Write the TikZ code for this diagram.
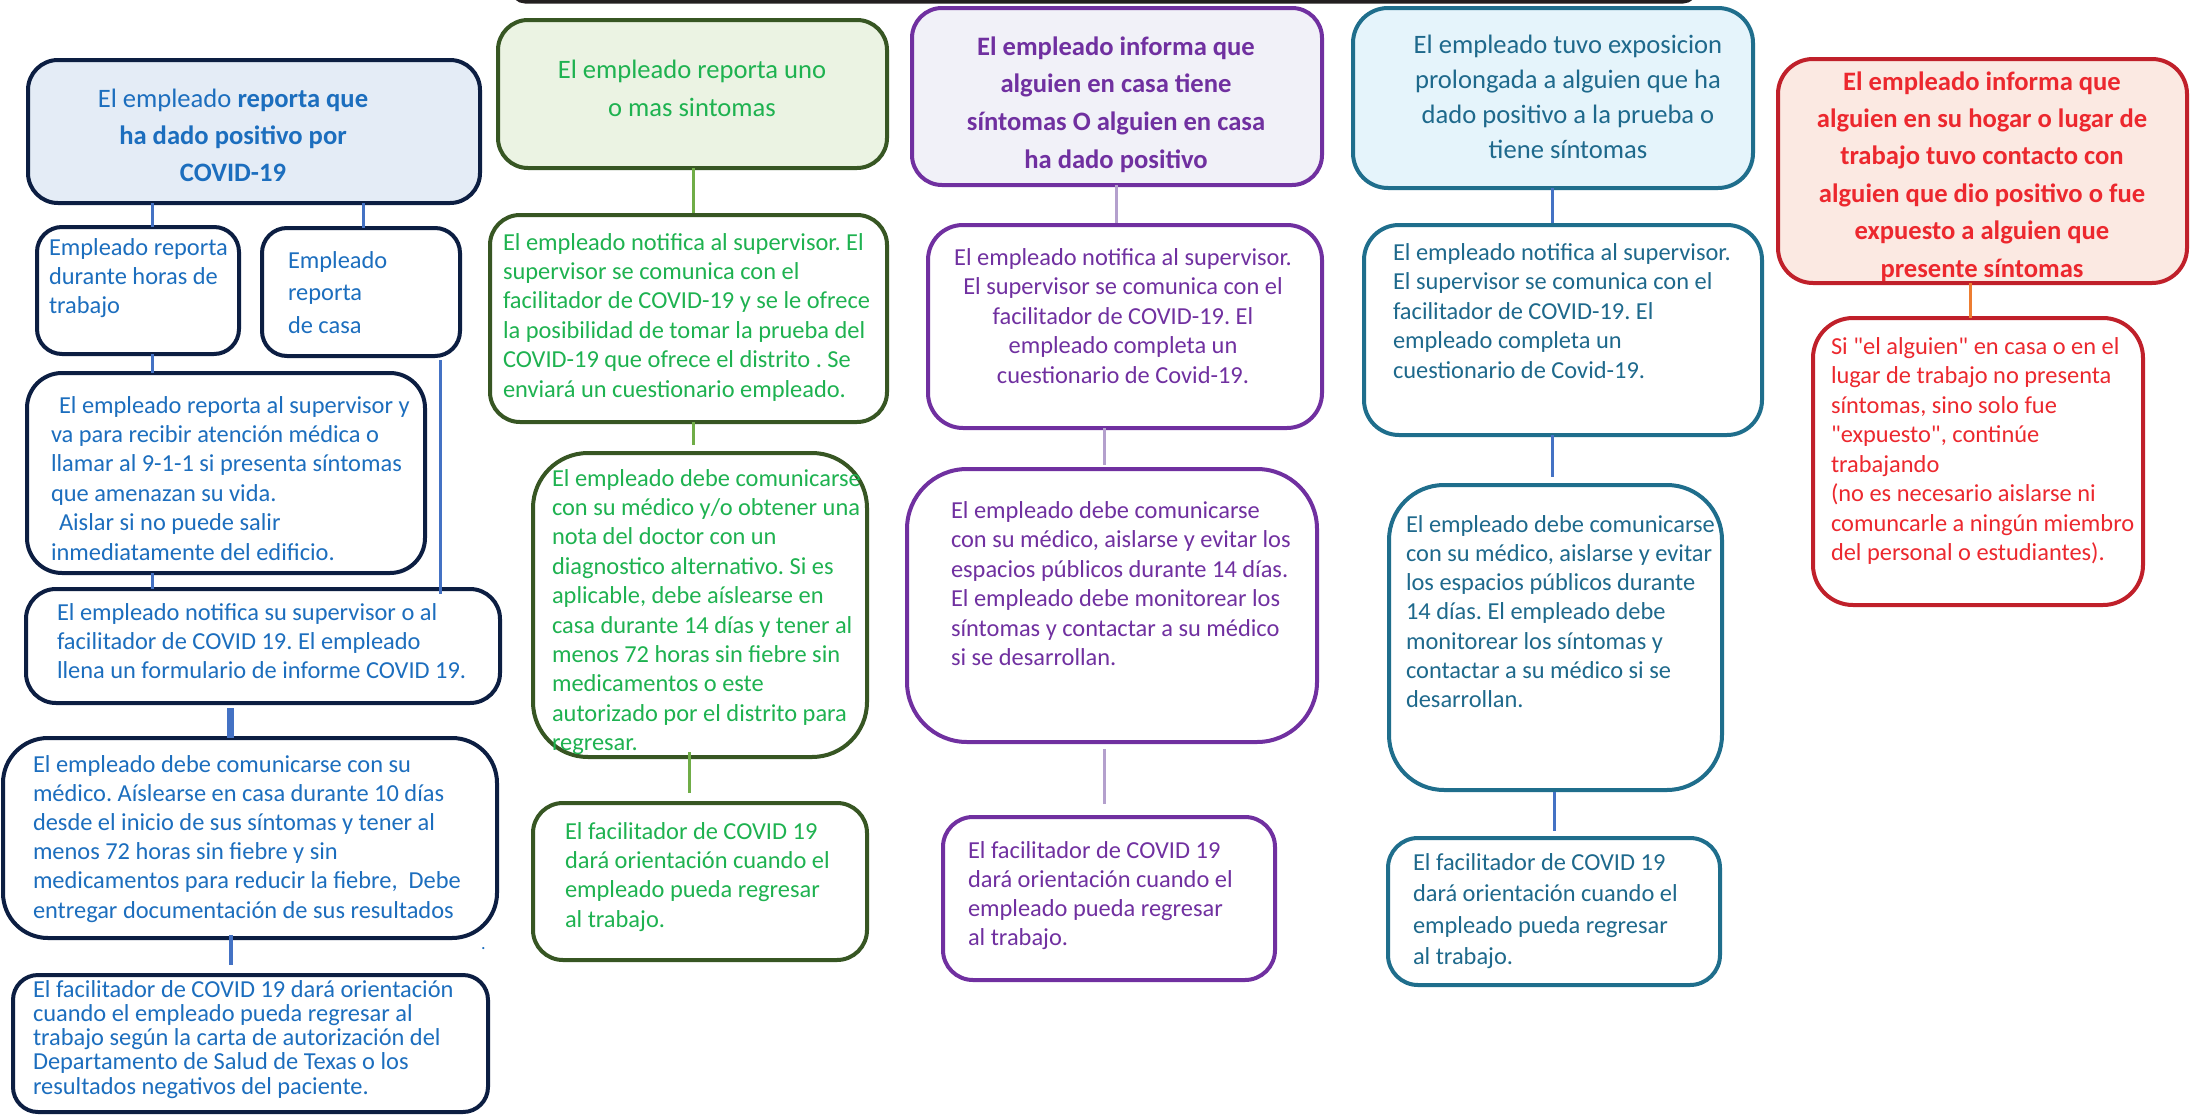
\documentclass[tikz,border=0pt]{standalone}
\usepackage{fontspec}
\setmainfont{Carlito}[Ligatures=TeXOff]
\usetikzlibrary{fit}
\frenchspacing
\definecolor{navy}{RGB}{12,30,66}
\definecolor{tblue}{RGB}{28,110,190}
\definecolor{fblue}{RGB}{228,236,246}
\definecolor{cblue}{RGB}{68,114,196}
\definecolor{sgreen}{RGB}{55,86,35}
\definecolor{fgreen}{RGB}{235,243,227}
\definecolor{tgreen}{RGB}{30,178,80}
\definecolor{cgreen}{RGB}{112,173,71}
\definecolor{spurple}{RGB}{112,48,160}
\definecolor{fpurple}{RGB}{241,241,248}
\definecolor{cpurple}{RGB}{180,160,205}
\definecolor{steal}{RGB}{31,110,140}
\definecolor{tteal}{RGB}{30,105,140}
\definecolor{fteal}{RGB}{229,244,251}
\definecolor{sred}{RGB}{192,32,42}
\definecolor{fred}{RGB}{251,233,226}
\definecolor{tred}{RGB}{236,40,46}
\definecolor{corange}{RGB}{237,125,49}
\definecolor{topbar}{RGB}{35,31,32}
\newcommand\LT[2]{\vtop{\baselineskip=#1pt\lineskiplimit=-1000pt\lineskip=0pt\halign{##\hfil\cr#2\crcr}}}
\newcommand\CT[2]{\vtop{\baselineskip=#1pt\lineskiplimit=-1000pt\lineskip=0pt\halign{\hfil##\hfil\cr#2\crcr}}}
\tikzset{
  bx/.style={draw, inner sep=0pt, outer sep=0pt, line width=4pt},
  tx/.style={inner sep=0pt, outer sep=0pt, anchor=base west, font=\fontsize{24.4}{29}\selectfont},
  hd/.style={inner sep=0pt, outer sep=0pt, anchor=base, font=\fontsize{26.6}{37}\selectfont},
  ln/.style={line width=3pt},
}
\begin{document}
\begin{tikzpicture}[x=1pt,y=-1pt]
\useasboundingbox (0,0) rectangle (2190,1119);
\fill[white] (0,0) rectangle (2190,1119);
% top bar (bottom edge of a box above the picture)
\node[bx, draw=topbar, line width=5pt, rounded corners=12pt, fit={(513,-60) (1695,1)}] (top) {};

% ---------- blue column ----------
\node[bx, draw=navy, fill=fblue, rounded corners=30pt, fit={(28,60) (480,203)}] (b1) {};
\node[bx, draw=navy, rounded corners=25pt, fit={(37,227) (239,354)}] (b2) {};
\node[bx, draw=navy, rounded corners=25pt, fit={(262,228) (460,356)}] (b3) {};
\node[bx, draw=navy, rounded corners=35pt, fit={(27,373) (425,573)}] (b4) {};
\node[bx, draw=navy, rounded corners=30pt, fit={(26,589) (500,703)}] (b5) {};
\node[bx, draw=navy, rounded corners=45pt, fit={(3,738) (497,938)}] (b6) {};
\node[bx, draw=navy, rounded corners=25pt, fit={(13,975) (488,1112)}] (b7) {};

\node[hd, text=tblue] (t1) at (233,107) {\CT{37}{El empleado \textbf{reporta que}\cr\textbf{ha dado positivo por}\cr\textbf{COVID-19}}};
\node[tx, text=tblue] (t2) at (49,255) {\LT{29}{Empleado reporta\cr durante horas de\cr trabajo}};
\node[tx, text=tblue] (t3) at (288,268) {\LT{32.5}{Empleado\cr reporta\cr de casa}};
\node[tx, text=tblue] (t4) at (51,413) {\LT{29.4}{\hskip8pt El empleado reporta al supervisor y\cr va para recibir atención médica o\cr llamar al 9-1-1 si presenta síntomas\cr que amenazan su vida.\cr \hskip8pt Aislar si no puede salir\cr inmediatamente del edificio.}};
\node[tx, text=tblue] (t5) at (57,620) {\LT{29}{El empleado notifica su supervisor o al\cr facilitador de COVID 19. El empleado\cr llena un formulario de informe COVID 19.}};
\node[tx, text=tblue] (t6) at (33,772) {\LT{29.2}{El empleado debe comunicarse con su\cr médico. Aíslearse en casa durante 10 días\cr desde el inicio de sus síntomas y tener al\cr menos 72 horas sin fiebre y sin\cr medicamentos para reducir la fiebre,\ \ Debe\cr entregar documentación de sus resultados}};
\node[tx, text=tblue] (t7) at (33,997) {\LT{24.3}{El facilitador de COVID 19 dará orientación\cr cuando el empleado pueda regresar al\cr trabajo según la carta de autorización del\cr Departamento de Salud de Texas o los\cr resultados negativos del paciente.}};
\node[tx, text=tblue, font=\fontsize{18}{20}\selectfont] (dot) at (481,949) {.};

\coordinate (k1) at (152,0);
\coordinate (k2) at (363,0);
\coordinate (k3) at (440,0);
\coordinate (k4) at (230,0);
\coordinate (k5) at (231,0);
\draw[ln, cblue] (b1.south -| k1) -- (b2.north -| k1);
\draw[ln, cblue] (b1.south -| k2) -- (b3.north -| k2);
\draw[ln, cblue] (b2.south -| k1) -- (b4.north -| k1);
\draw[ln, cblue] (b4.south -| k1) -- (b5.north -| k1);
\draw[ln, cblue, shorten <=4pt, shorten >=-5pt] (b3.south -| k3) -- (b5.north -| k3);
\draw[cblue, line width=7pt, shorten <=5pt] (b5.south -| k4) -- (b6.north -| k4);
\draw[cblue, line width=4pt, shorten <=-3pt, shorten >=10pt] (b6.south -| k5) -- (b7.north -| k5);

% ---------- green column ----------
\node[bx, draw=sgreen, fill=fgreen, rounded corners=30pt, fit={(498,20) (887,168)}] (g1) {};
\node[bx, draw=sgreen, rounded corners=30pt, fit={(490,215) (887,422)}] (g2) {};
\node[bx, draw=sgreen, rounded corners=55pt, fit={(533,453) (867,757)}] (g3) {};
\node[bx, draw=sgreen, rounded corners=30pt, fit={(533,803) (867,960)}] (g4) {};

\node[hd, text=tgreen] (gt1) at (692,78) {\CT{38}{El empleado reporta uno\cr o mas sintomas}};
\node[tx, text=tgreen] (gt2) at (503,250) {\LT{29.4}{El empleado notifica al supervisor. El\cr supervisor se comunica con el\cr facilitador de COVID-19 y se le ofrece\cr la posibilidad de tomar la prueba del\cr COVID-19 que ofrece el distrito . Se\cr enviará un cuestionario empleado.}};
\node[tx, text=tgreen] (gt3) at (552,486) {\LT{29.4}{El empleado debe comunicarse\cr con su médico y/o obtener una\cr nota del doctor con un\cr diagnostico alternativo. Si es\cr aplicable, debe aíslearse en\cr casa durante 14 días y tener al\cr menos 72 horas sin fiebre sin\cr medicamentos o este\cr autorizado por el distrito para\cr regresar.}};
\node[tx, text=tgreen] (gt4) at (565,839) {\LT{29.4}{El facilitador de COVID 19\cr dará orientación cuando el\cr empleado pueda regresar\cr al trabajo.}};

\coordinate (k6) at (693,0);
\coordinate (k7) at (689,0);
\draw[ln, cgreen, shorten >=2pt] (g1.south -| k6) -- (g2.north -| k6);
\draw[ln, cgreen, shorten >=8pt] (g2.south -| k6) -- (g3.north -| k6);
\draw[ln, cgreen, shorten <=-5pt, shorten >=10pt] (g3.south -| k7) -- (g4.north -| k7);

% ---------- purple column ----------
\node[bx, draw=spurple, fill=fpurple, rounded corners=30pt, fit={(912,8) (1322,185)}] (p1) {};
\node[bx, draw=spurple, rounded corners=35pt, fit={(928,225) (1322,428)}] (p2) {};
\node[bx, draw=spurple, rounded corners=60pt, fit={(907,469) (1317,742)}] (p3) {};
\node[bx, draw=spurple, rounded corners=30pt, fit={(943,817) (1275,980)}] (p4) {};

\node[hd, text=spurple] (pt1) at (1116,55) {\CT{37.7}{\textbf{El empleado informa que}\cr\textbf{alguien en casa tiene}\cr\textbf{síntomas O alguien en casa}\cr\textbf{ha dado positivo}}};
\node[tx, text=spurple, anchor=base] (pt2) at (1123,265) {\CT{29.5}{El empleado notifica al supervisor.\cr El supervisor se comunica con el\cr facilitador de COVID-19. El\cr empleado completa un\cr cuestionario de Covid-19.}};
\node[tx, text=spurple] (pt3) at (951,518) {\LT{29.5}{El empleado debe comunicarse\cr con su médico, aislarse y evitar los\cr espacios públicos durante 14 días.\cr El empleado debe monitorear los\cr síntomas y contactar a su médico\cr si se desarrollan.}};
\node[tx, text=spurple] (pt4) at (968,858) {\LT{29.3}{El facilitador de COVID 19\cr dará orientación cuando el\cr empleado pueda regresar\cr al trabajo.}};

\coordinate (k8) at (1116,0);
\coordinate (k9) at (1104,0);
\draw[ln, cpurple, shorten >=2pt] (p1.south -| k8) -- (p2.north -| k8);
\draw[ln, cpurple, shorten >=4pt] (p2.south -| k9) -- (p3.north -| k9);
\draw[ln, cpurple, shorten <=7pt, shorten >=13pt] (p3.south -| k9) -- (p4.north -| k9);

% ---------- teal column ----------
\node[bx, draw=steal, fill=fteal, rounded corners=35pt, fit={(1353,8) (1753,188)}] (q1) {};
\node[bx, draw=steal, rounded corners=35pt, fit={(1364,225) (1762,435)}] (q2) {};
\node[bx, draw=steal, rounded corners=55pt, fit={(1389,485) (1722,790)}] (q3) {};
\node[bx, draw=steal, rounded corners=30pt, fit={(1388,838) (1720,985)}] (q4) {};

\node[hd, text=tteal] (qt1) at (1568,53) {\CT{35}{El empleado tuvo exposicion\cr prolongada a alguien que ha\cr dado positivo a la prueba o\cr tiene síntomas}};
\node[tx, text=tteal] (qt2) at (1393,260) {\LT{29.5}{El empleado notifica al supervisor.\cr El supervisor se comunica con el\cr facilitador de COVID-19. El\cr empleado completa un\cr cuestionario de Covid-19.}};
\node[tx, text=tteal] (qt3) at (1406,532) {\LT{29.3}{El empleado debe comunicarse\cr con su médico, aislarse y evitar\cr los espacios públicos durante\cr 14 días. El empleado debe\cr monitorear los síntomas y\cr contactar a su médico si se\cr desarrollan.}};
\node[tx, text=tteal] (qt4) at (1413,870) {\LT{31.5}{El facilitador de COVID 19\cr dará orientación cuando el\cr empleado pueda regresar\cr al trabajo.}};

\coordinate (k10) at (1552,0);
\coordinate (k11) at (1554,0);
\draw[ln, cblue, shorten >=2pt] (q1.south -| k10) -- (q2.north -| k10);
\draw[ln, cblue, shorten >=8pt] (q2.south -| k10) -- (q3.north -| k10);
\draw[ln, cblue, shorten <=2pt, shorten >=7pt] (q3.south -| k11) -- (q4.north -| k11);

% ---------- red column ----------
\node[bx, draw=sred, fill=fred, rounded corners=35pt, fit={(1778,59) (2187,283)}] (r1) {};
\node[bx, draw=sred, rounded corners=40pt, fit={(1813,318) (2143,605)}] (r2) {};

\node[hd, text=tred] (rt1) at (1982,90) {\CT{37.4}{\textbf{El empleado informa que}\cr\textbf{alguien en su hogar o lugar de}\cr\textbf{trabajo tuvo contacto con}\cr\textbf{alguien que dio positivo o fue}\cr\textbf{expuesto a alguien que}\cr\textbf{presente síntomas}}};
\node[tx, text=tred] (rt2) at (1831,354) {\LT{29.5}{Si "el alguien" en casa o en el\cr lugar de trabajo no presenta\cr síntomas, sino solo fue\cr "expuesto", continúe\cr trabajando\cr (no es necesario aislarse ni\cr comuncarle a ningún miembro\cr del personal o estudiantes).}};

\coordinate (k12) at (1970,0);
\draw[ln, corange] (r1.south -| k12) -- (r2.north -| k12);
\end{tikzpicture}
\end{document}
